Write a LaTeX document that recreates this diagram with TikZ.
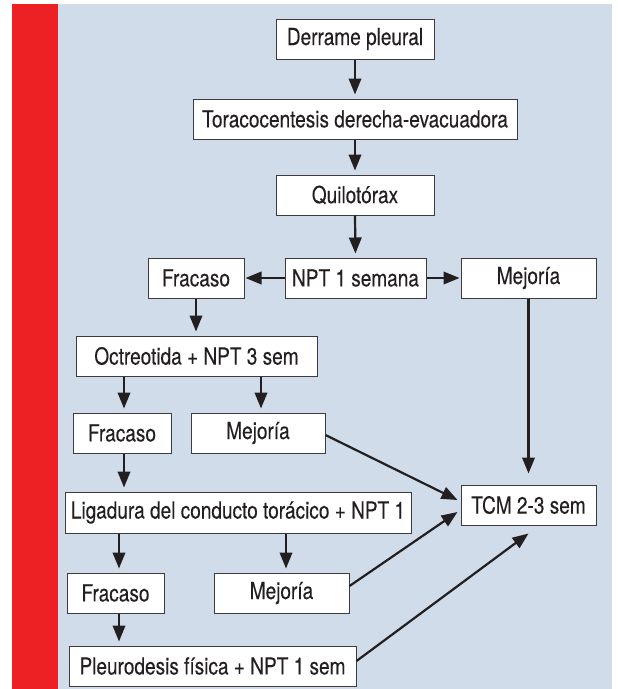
\documentclass[tikz,border=0pt]{standalone}
\usepackage{fontspec}
\setmainfont{TeX Gyre Heros}[FakeStretch=0.81,FakeBold=0.15]
\usetikzlibrary{arrows.meta,calc}
\definecolor{barred}{RGB}{237,33,36}
\definecolor{bgblue}{RGB}{208,220,233}
\definecolor{ink}{RGB}{35,31,32}
\definecolor{boxline}{RGB}{60,60,64}
\begin{document}
\begin{tikzpicture}[x=1pt,y=-1pt,
  box/.style={draw=boxline,line width=1pt,fill=white,rectangle,inner sep=0pt,
    minimum height=40pt,text=ink,font=\fontsize{23.5}{27}\selectfont},
  arr/.style={draw=ink,line width=2.2pt,-{Triangle[length=16pt,width=12.5pt]},shorten >=4pt},
  arrh/.style={arr,shorten >=1pt}]
\useasboundingbox (0,0) rectangle (618,689);
\fill[barred] (12,4) rectangle (58,689);
\fill[bgblue] (58,4) rectangle (612,689);

\node[box,minimum width=158pt] (d1) at (355,39) {Derrame pleural};
\node[box,minimum width=324pt] (d2) at (355,119) {Toracocentesis derecha-evacuadora};
\node[box,minimum width=158pt] (d3) at (355,195) {Quilotórax};
\node[box,minimum width=141pt] (npt) at (355.5,278) {NPT 1 semana};
\node[box,minimum width=96pt] (f1) at (196,278) {Fracaso};
\node[box,minimum width=135pt] (m1) at (528.5,278) {Mejoría};
\node[box,minimum width=241pt] (oct) at (196.5,356) {Octreotida + NPT 3 sem};
\node[box,minimum width=98pt] (f2) at (122,433) {Fracaso};
\node[box,minimum width=134pt] (m2) at (258,433) {Mejoría};
\node[box,minimum width=346pt,minimum height=41pt] (lig) at (238,512.5) {Ligadura del conducto torácico + NPT 1};
\node[box,minimum width=135pt] (tcm) at (528.5,505) {TCM 2-3 sem};
\node[box,minimum width=97pt] (f3) at (115.5,593) {Fracaso};
\node[box,minimum width=135pt] (m3) at (281.5,593) {Mejoría};
\node[box,minimum width=287pt] (pl) at (212.5,666) {Pleurodesis física + NPT 1 sem};

\draw[arr] (d1.south) -- (d2.north);
\draw[arr] (d2.south) -- (d3.north);
\draw[arr] (d3.south) -- (npt.north);
\draw[arrh] (npt.west) -- (f1.east);
\draw[arrh] (npt.east) -- (m1.west);
\draw[arr] (f1.south) -- (f1.south |- oct.north);
\draw[arr] ($(oct.south -| f2.center)+(2,0)$) -- ($(f2.north)+(2,0)$);
\draw[arr] ($(oct.south -| m2.center)+(3,0)$) -- ($(m2.north)+(3,0)$);
\draw[arr] ($(f2.south)+(2,0)$) -- ($(f2.south |- lig.north)+(2,0)$);
\draw[arr] ($(lig.south -| f3.center)+(3.5,0)$) -- ($(f3.north)+(3.5,0)$);
\draw[arr] ($(lig.south -| m3.center)+(4.5,0)$) -- ($(m3.north)+(4.5,0)$);
\draw[arr] ($(f3.south)+(3.5,0)$) -- ($(f3.south |- pl.north)+(3.5,0)$);
\draw[arr,shorten >=0pt] (m1.south) -- ($(tcm.north)+(0,-11)$);
\draw[arr,shorten >=0pt] ($(m2.east)+(0,2)$) -- ($(tcm.west)+(-3,-5)$);
\draw[arr,shorten >=0pt] ($(m3.east)+(0,-7)$) -- ($(tcm.west)+(-3,7)$);
\draw[arr,shorten >=0pt] ($(pl.east)+(0,-5)$) -- ($(tcm.south)+(0,8)$);
\end{tikzpicture}
\end{document}
